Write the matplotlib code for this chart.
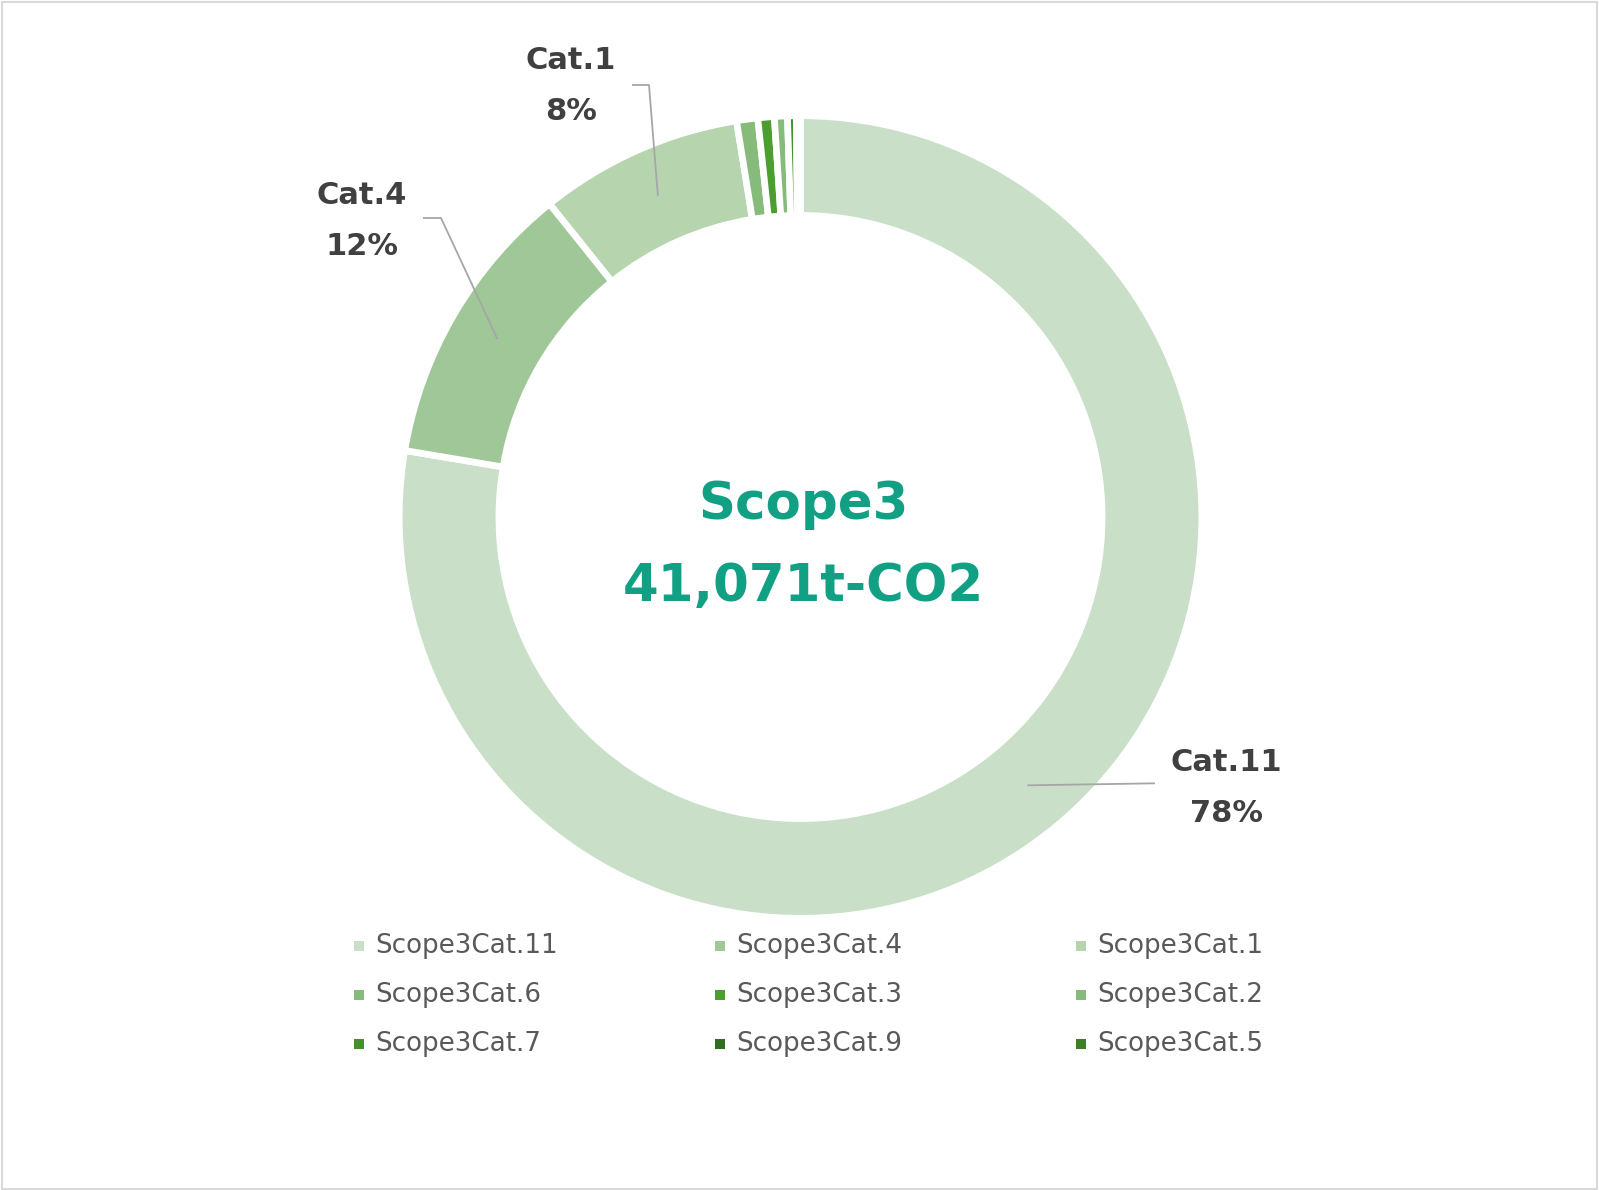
import matplotlib
matplotlib.use("Agg")
import matplotlib.pyplot as plt
import numpy as np
from matplotlib.patches import Rectangle

# data (t-CO2), clockwise from 12 o'clock
names = ["Scope3Cat.11", "Scope3Cat.4", "Scope3Cat.1", "Scope3Cat.6", "Scope3Cat.3",
         "Scope3Cat.2", "Scope3Cat.7", "Scope3Cat.9", "Scope3Cat.5"]
short = ["Cat.11", "Cat.4", "Cat.1", "Cat.6", "Cat.3", "Cat.2", "Cat.7", "Cat.9", "Cat.5"]
values = [31892, 4764, 3368, 349, 271, 214, 144, 41, 28]
colors = ["#C9DFC7", "#A0C797", "#B6D5AF", "#86BB7B", "#4C9E30",
          "#86BB7B", "#44902C", "#2E6E1E", "#3C7F27"]
total = sum(values)

W, H = 1599, 1190
fig = plt.figure(figsize=(W / 100, H / 100), dpi=100)
ax = fig.add_axes([0, 0, 1, 1])

cx, cy = 800.5, H - 517
R = 401.3
ring = 99.7

wedges, _ = ax.pie(values, colors=colors, startangle=90, counterclock=False,
                   radius=R, center=(cx, cy),
                   wedgeprops=dict(width=ring, edgecolor="white", linewidth=4.8))
ax.set_xlim(0, W)
ax.set_ylim(0, H)
ax.axis("off")

# center text
ax.text(cx + 3, H - 505, "Scope3", ha="center", va="center", fontsize=37,
        fontweight="bold", color="#12A085", family="DejaVu Sans")
ax.text(cx + 3, H - 587, f"{total:,}t-CO2", ha="center", va="center", fontsize=37,
        fontweight="bold", color="#12A085", family="DejaVu Sans")

# data labels with leader lines: (slice index, text pos, leader end, hook length)
labels = [
    (0, (1226, H - 788), (1155, None), 0),
    (1, (362, H - 221), (423, H - 218), 18),
    (2, (571, H - 86), (632, H - 85), 17),
]
for i, txy, (ex, ey), hook in labels:
    w = wedges[i]
    mid = np.deg2rad((w.theta1 + w.theta2) / 2)
    rm = R - ring / 2
    ax0, ay0 = cx + rm * np.cos(mid), cy + rm * np.sin(mid)
    if ey is None:
        xs, ys = [ax0, ex], [ay0, ay0 + 2]
    else:
        xs, ys = [ax0, ex + hook, ex], [ay0, ey, ey]
    ax.plot(xs, ys, color="#A6A6A6", lw=1.3, solid_capstyle="butt")
    pct = round(values[i] / total * 100)
    ax.text(txy[0], txy[1], f"{short[i]}\n{pct}%", ha="center", va="center",
            fontsize=22, fontweight="bold", color="#404040", linespacing=1.95,
            family="DejaVu Sans")

# legend, 3 columns filled row by row
x0, y0 = 359, H - 946
col_pitch, row_pitch = 361, 49
for k, name in enumerate(names):
    row, col = divmod(k, 3)
    x = x0 + col * col_pitch
    y = y0 - row * row_pitch
    ax.add_patch(Rectangle((x - 5, y - 5), 10, 10, color=colors[k], lw=0))
    ax.text(x + 16, y, name, ha="left", va="center", fontsize=18.8,
            color="#595959", family="DejaVu Sans")

# outer frame
fig.patches.append(Rectangle((0.001, 0.001), 0.998, 0.997, transform=fig.transFigure,
                             fill=False, edgecolor="#D9D9D9", lw=1.5))

fig.savefig("out.png", dpi=100, facecolor="white")
